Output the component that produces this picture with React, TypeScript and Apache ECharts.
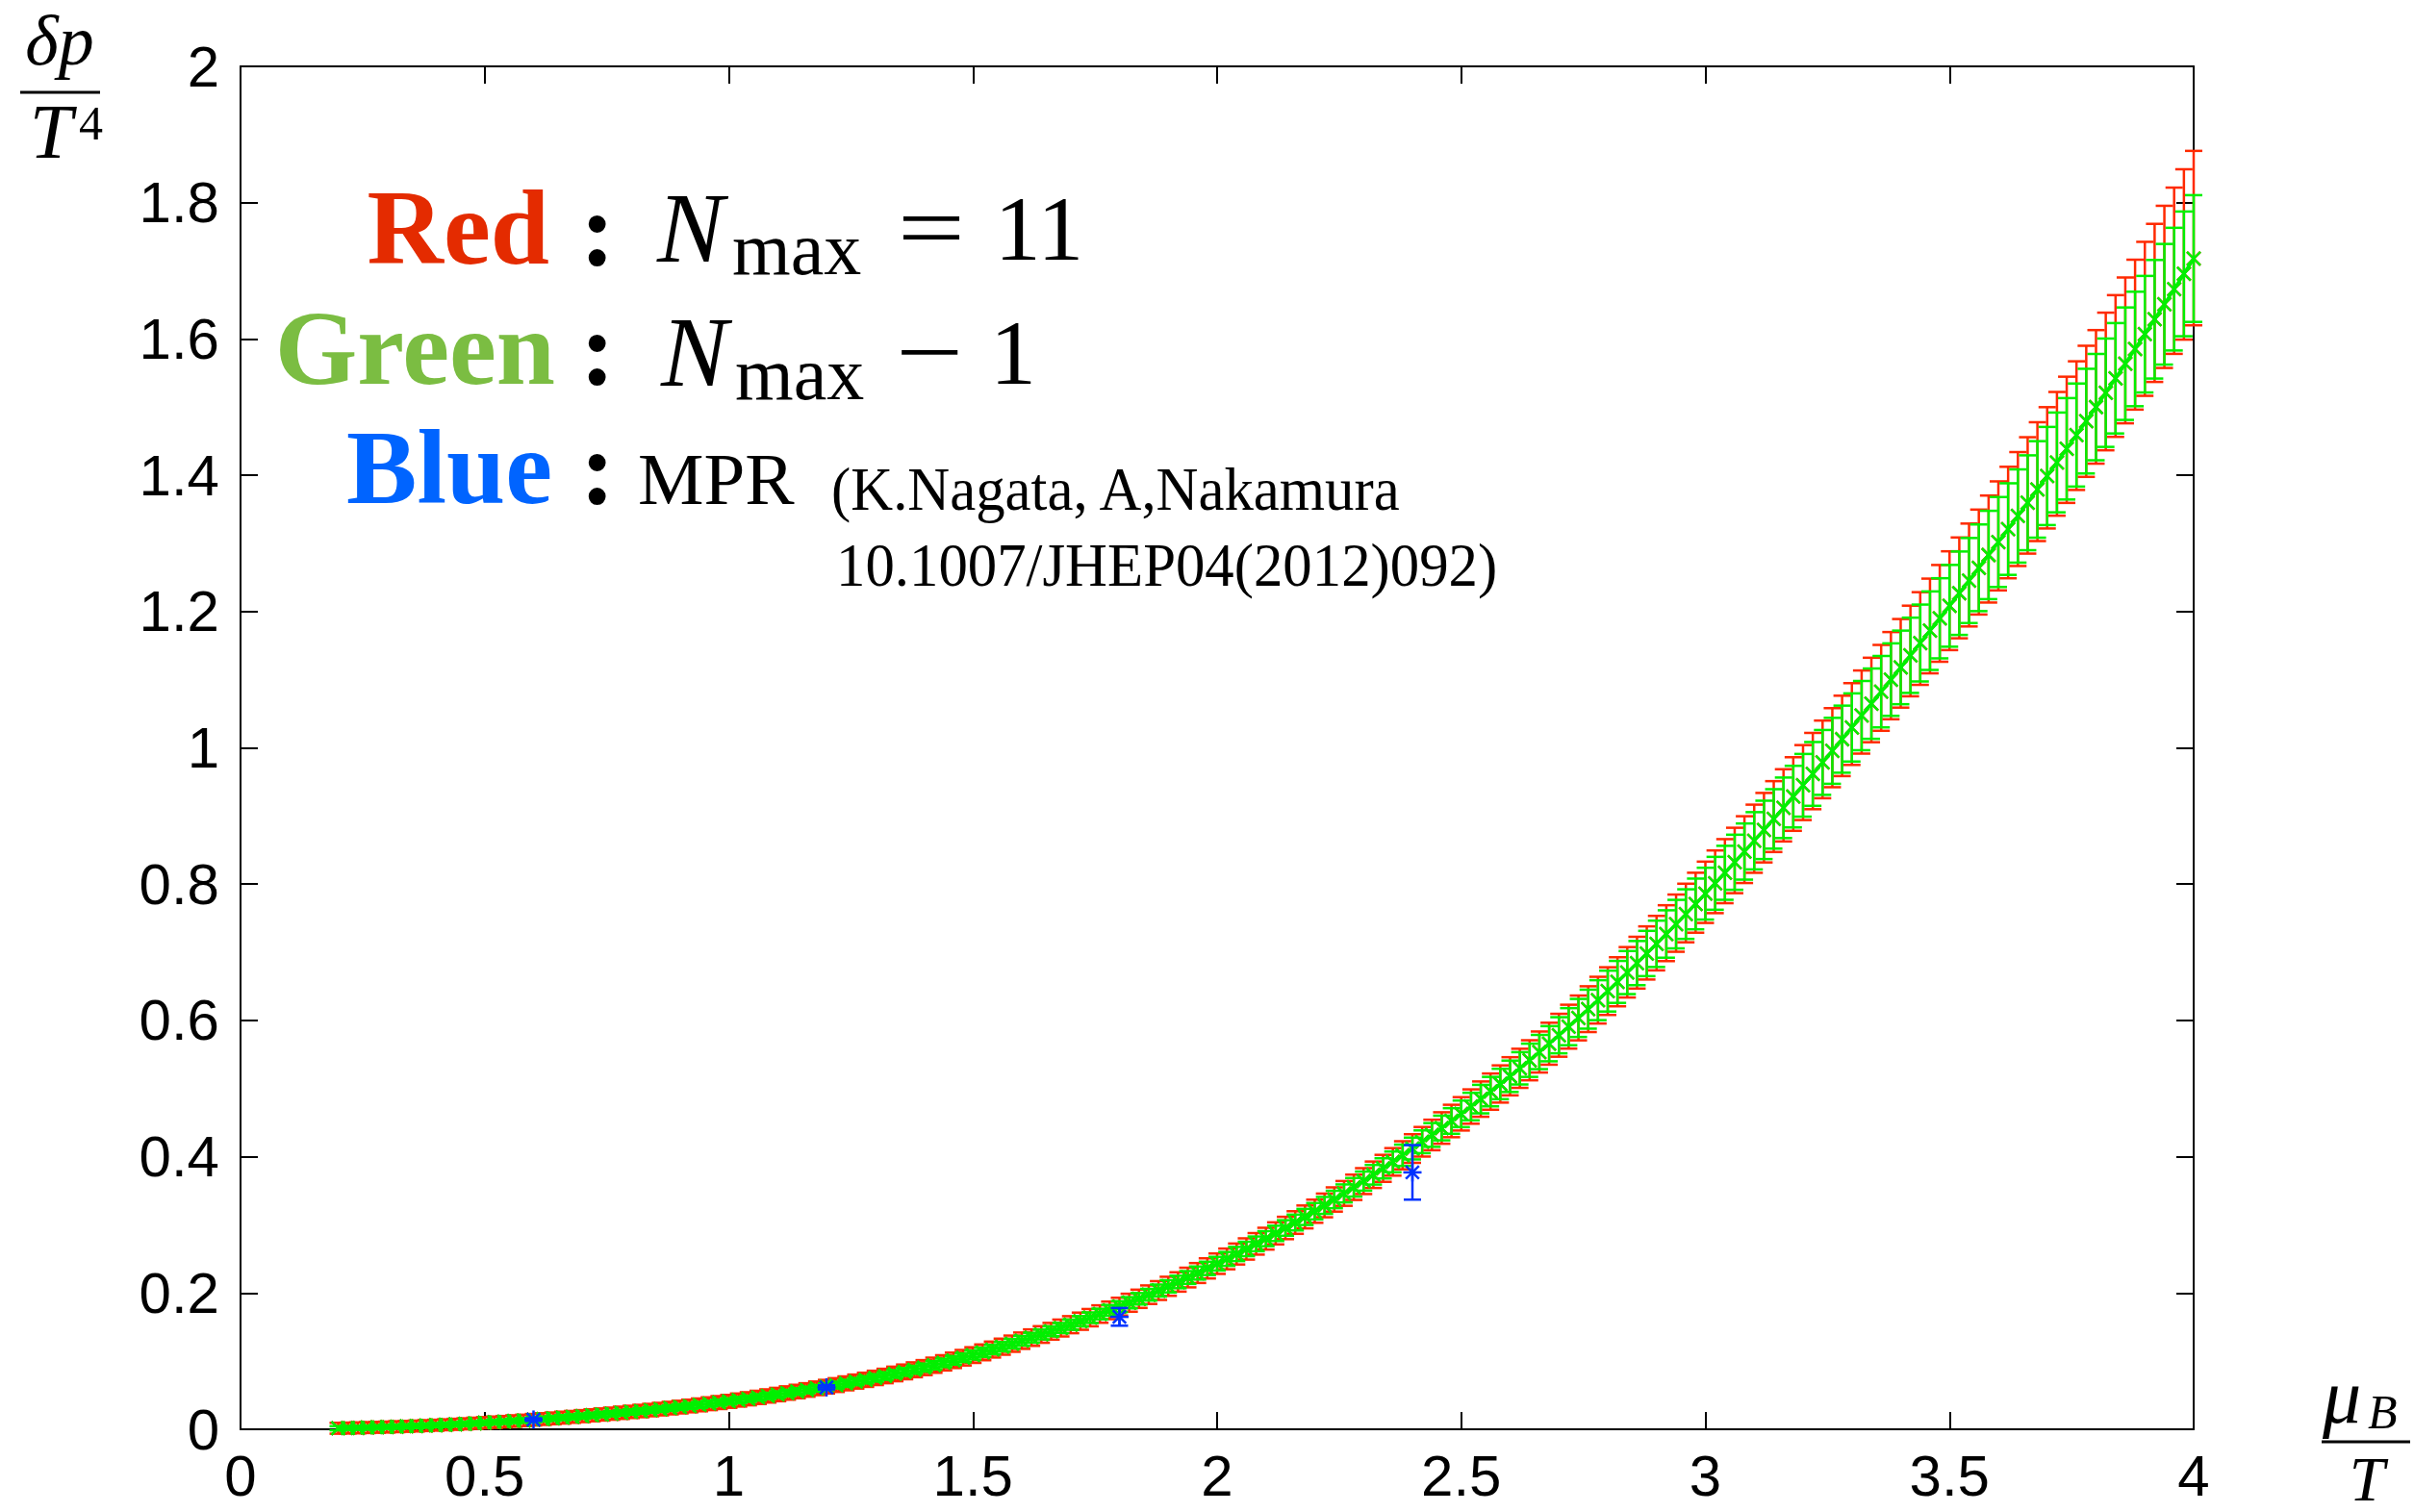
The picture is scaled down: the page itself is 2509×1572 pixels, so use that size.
import React, { useEffect, useRef } from "react";
import * as echarts from "echarts";

// mu_B / T grid of the fugacity-expansion results
const muGrid = [
  0.2, 0.22, 0.24, 0.26, 0.28, 0.3, 0.32, 0.34, 0.36, 0.38,
  0.4, 0.42, 0.44, 0.46, 0.48, 0.5, 0.52, 0.54, 0.56, 0.58,
  0.6, 0.62, 0.64, 0.66, 0.68, 0.7, 0.72, 0.74, 0.76, 0.78,
  0.8, 0.82, 0.84, 0.86, 0.88, 0.9, 0.92, 0.94, 0.96, 0.98,
  1, 1.02, 1.04, 1.06, 1.08, 1.1, 1.12, 1.14, 1.16, 1.18,
  1.2, 1.22, 1.24, 1.26, 1.28, 1.3, 1.32, 1.34, 1.36, 1.38,
  1.4, 1.42, 1.44, 1.46, 1.48, 1.5, 1.52, 1.54, 1.56, 1.58,
  1.6, 1.62, 1.64, 1.66, 1.68, 1.7, 1.72, 1.74, 1.76, 1.78,
  1.8, 1.82, 1.84, 1.86, 1.88, 1.9, 1.92, 1.94, 1.96, 1.98,
  2, 2.02, 2.04, 2.06, 2.08, 2.1, 2.12, 2.14, 2.16, 2.18,
  2.2, 2.22, 2.24, 2.26, 2.28, 2.3, 2.32, 2.34, 2.36, 2.38,
  2.4, 2.42, 2.44, 2.46, 2.48, 2.5, 2.52, 2.54, 2.56, 2.58,
  2.6, 2.62, 2.64, 2.66, 2.68, 2.7, 2.72, 2.74, 2.76, 2.78,
  2.8, 2.82, 2.84, 2.86, 2.88, 2.9, 2.92, 2.94, 2.96, 2.98,
  3, 3.02, 3.04, 3.06, 3.08, 3.1, 3.12, 3.14, 3.16, 3.18,
  3.2, 3.22, 3.24, 3.26, 3.28, 3.3, 3.32, 3.34, 3.36, 3.38,
  3.4, 3.42, 3.44, 3.46, 3.48, 3.5, 3.52, 3.54, 3.56, 3.58,
  3.6, 3.62, 3.64, 3.66, 3.68, 3.7, 3.72, 3.74, 3.76, 3.78,
  3.8, 3.82, 3.84, 3.86, 3.88, 3.9, 3.92, 3.94, 3.96, 3.98,
  4,
];

// delta p / T^4 (the two truncations share the plotted central values)
const pCentral = [
  0.0015, 0.0018, 0.0021, 0.0025, 0.0029, 0.0033, 0.0038, 0.0043, 0.0048, 0.0054,
  0.0060, 0.0066, 0.0073, 0.0080, 0.0088, 0.0096, 0.0104, 0.0112, 0.0121, 0.0130,
  0.0140, 0.0150, 0.0160, 0.0171, 0.0182, 0.0193, 0.0205, 0.0217, 0.0229, 0.0242,
  0.0255, 0.0268, 0.0282, 0.0296, 0.0311, 0.0326, 0.0342, 0.0358, 0.0375, 0.0392,
  0.0410, 0.0429, 0.0448, 0.0468, 0.0489, 0.0510, 0.0532, 0.0554, 0.0577, 0.0601,
  0.0625, 0.0649, 0.0674, 0.0700, 0.0726, 0.0754, 0.0782, 0.0812, 0.0842, 0.0873,
  0.0905, 0.0940, 0.0975, 0.1012, 0.1050, 0.1089, 0.1129, 0.1170, 0.1212, 0.1256,
  0.1300, 0.1345, 0.1391, 0.1438, 0.1486, 0.1535, 0.1586, 0.1638, 0.1691, 0.1745,
  0.1800, 0.1857, 0.1915, 0.1975, 0.2036, 0.2098, 0.2162, 0.2227, 0.2293, 0.2361,
  0.2430, 0.2500, 0.2572, 0.2646, 0.2721, 0.2797, 0.2875, 0.2954, 0.3034, 0.3116,
  0.3200, 0.3285, 0.3372, 0.3461, 0.3551, 0.3642, 0.3735, 0.3829, 0.3924, 0.4021,
  0.4120, 0.4219, 0.4319, 0.4421, 0.4524, 0.4629, 0.4736, 0.4845, 0.4955, 0.5067,
  0.5180, 0.5297, 0.5415, 0.5536, 0.5658, 0.5782, 0.5908, 0.6036, 0.6165, 0.6297,
  0.6430, 0.6565, 0.6702, 0.6841, 0.6982, 0.7124, 0.7268, 0.7413, 0.7560, 0.7709,
  0.7860, 0.8012, 0.8166, 0.8321, 0.8478, 0.8636, 0.8796, 0.8957, 0.9120, 0.9284,
  0.9450, 0.9617, 0.9786, 0.9956, 1.0127, 1.0299, 1.0473, 1.0648, 1.0824, 1.1001,
  1.1180, 1.1358, 1.1538, 1.1719, 1.1901, 1.2084, 1.2269, 1.2455, 1.2642, 1.2830,
  1.3020, 1.3210, 1.3402, 1.3596, 1.3792, 1.3989, 1.4188, 1.4388, 1.4590, 1.4794,
  1.5000, 1.5211, 1.5423, 1.5637, 1.5853, 1.6070, 1.6289, 1.6509, 1.6731, 1.6955,
  1.7180,
];

// Green (N_max - 1): symmetric error
const errGreen = [
  0.0030, 0.0030, 0.0030, 0.0030, 0.0030, 0.0030, 0.0030, 0.0030, 0.0030, 0.0030,
  0.0030, 0.0030, 0.0031, 0.0031, 0.0032, 0.0032, 0.0033, 0.0033, 0.0034, 0.0034,
  0.0035, 0.0036, 0.0036, 0.0037, 0.0037, 0.0038, 0.0038, 0.0039, 0.0039, 0.0040,
  0.0040, 0.0041, 0.0041, 0.0042, 0.0042, 0.0043, 0.0043, 0.0044, 0.0044, 0.0045,
  0.0045, 0.0046, 0.0046, 0.0047, 0.0047, 0.0048, 0.0048, 0.0049, 0.0049, 0.0050,
  0.0050, 0.0051, 0.0052, 0.0053, 0.0054, 0.0055, 0.0056, 0.0057, 0.0058, 0.0059,
  0.0060, 0.0061, 0.0062, 0.0063, 0.0064, 0.0065, 0.0066, 0.0067, 0.0068, 0.0069,
  0.0070, 0.0071, 0.0072, 0.0073, 0.0074, 0.0075, 0.0076, 0.0077, 0.0078, 0.0079,
  0.0080, 0.0082, 0.0084, 0.0086, 0.0088, 0.0090, 0.0092, 0.0094, 0.0096, 0.0098,
  0.0100, 0.0102, 0.0104, 0.0106, 0.0108, 0.0110, 0.0112, 0.0114, 0.0116, 0.0118,
  0.0120, 0.0124, 0.0128, 0.0132, 0.0136, 0.0140, 0.0144, 0.0148, 0.0152, 0.0156,
  0.0160, 0.0167, 0.0174, 0.0181, 0.0188, 0.0195, 0.0202, 0.0209, 0.0216, 0.0223,
  0.0230, 0.0237, 0.0244, 0.0251, 0.0258, 0.0265, 0.0272, 0.0279, 0.0286, 0.0293,
  0.0300, 0.0308, 0.0316, 0.0324, 0.0332, 0.0340, 0.0348, 0.0356, 0.0364, 0.0372,
  0.0380, 0.0388, 0.0396, 0.0404, 0.0412, 0.0420, 0.0428, 0.0436, 0.0444, 0.0452,
  0.0460, 0.0468, 0.0476, 0.0484, 0.0492, 0.0500, 0.0508, 0.0516, 0.0524, 0.0532,
  0.0540, 0.0552, 0.0564, 0.0576, 0.0588, 0.0600, 0.0612, 0.0624, 0.0636, 0.0648,
  0.0660, 0.0672, 0.0684, 0.0696, 0.0708, 0.0720, 0.0732, 0.0744, 0.0756, 0.0768,
  0.0780, 0.0795, 0.0810, 0.0825, 0.0840, 0.0855, 0.0870, 0.0885, 0.0900, 0.0915,
  0.0930,
];

// Red (N_max = 11): lower error
const errRedLow = [
  0.0080, 0.0080, 0.0080, 0.0080, 0.0080, 0.0080, 0.0080, 0.0080, 0.0080, 0.0080,
  0.0080, 0.0080, 0.0081, 0.0081, 0.0082, 0.0082, 0.0083, 0.0083, 0.0084, 0.0084,
  0.0085, 0.0086, 0.0086, 0.0087, 0.0087, 0.0088, 0.0088, 0.0089, 0.0089, 0.0090,
  0.0090, 0.0091, 0.0091, 0.0092, 0.0092, 0.0093, 0.0093, 0.0094, 0.0094, 0.0095,
  0.0095, 0.0096, 0.0096, 0.0097, 0.0097, 0.0098, 0.0098, 0.0099, 0.0099, 0.0100,
  0.0100, 0.0101, 0.0102, 0.0103, 0.0104, 0.0105, 0.0106, 0.0107, 0.0108, 0.0109,
  0.0110, 0.0111, 0.0112, 0.0113, 0.0114, 0.0115, 0.0116, 0.0117, 0.0118, 0.0119,
  0.0120, 0.0121, 0.0122, 0.0123, 0.0124, 0.0125, 0.0126, 0.0127, 0.0128, 0.0129,
  0.0130, 0.0132, 0.0134, 0.0136, 0.0138, 0.0140, 0.0142, 0.0144, 0.0146, 0.0148,
  0.0150, 0.0152, 0.0154, 0.0156, 0.0158, 0.0160, 0.0162, 0.0164, 0.0166, 0.0168,
  0.0170, 0.0174, 0.0178, 0.0182, 0.0186, 0.0190, 0.0194, 0.0198, 0.0202, 0.0206,
  0.0210, 0.0217, 0.0224, 0.0231, 0.0238, 0.0245, 0.0252, 0.0259, 0.0266, 0.0273,
  0.0280, 0.0287, 0.0294, 0.0301, 0.0308, 0.0315, 0.0322, 0.0329, 0.0336, 0.0343,
  0.0350, 0.0358, 0.0366, 0.0374, 0.0382, 0.0390, 0.0398, 0.0406, 0.0414, 0.0422,
  0.0430, 0.0438, 0.0446, 0.0454, 0.0462, 0.0470, 0.0478, 0.0486, 0.0494, 0.0502,
  0.0510, 0.0518, 0.0526, 0.0534, 0.0542, 0.0550, 0.0558, 0.0566, 0.0574, 0.0582,
  0.0590, 0.0602, 0.0614, 0.0626, 0.0638, 0.0650, 0.0662, 0.0674, 0.0686, 0.0698,
  0.0710, 0.0722, 0.0734, 0.0746, 0.0758, 0.0770, 0.0782, 0.0794, 0.0806, 0.0818,
  0.0830, 0.0845, 0.0860, 0.0875, 0.0890, 0.0905, 0.0920, 0.0935, 0.0950, 0.0965,
  0.0980,
];

// Red (N_max = 11): upper error
const errRedHigh = [
  0.0080, 0.0080, 0.0080, 0.0080, 0.0080, 0.0080, 0.0080, 0.0080, 0.0080, 0.0080,
  0.0080, 0.0080, 0.0081, 0.0081, 0.0082, 0.0082, 0.0083, 0.0083, 0.0084, 0.0084,
  0.0085, 0.0086, 0.0086, 0.0087, 0.0087, 0.0088, 0.0088, 0.0089, 0.0089, 0.0090,
  0.0090, 0.0091, 0.0091, 0.0092, 0.0092, 0.0093, 0.0093, 0.0094, 0.0094, 0.0095,
  0.0095, 0.0096, 0.0096, 0.0097, 0.0097, 0.0098, 0.0098, 0.0099, 0.0099, 0.0100,
  0.0100, 0.0101, 0.0102, 0.0103, 0.0104, 0.0105, 0.0106, 0.0107, 0.0108, 0.0109,
  0.0110, 0.0111, 0.0112, 0.0113, 0.0114, 0.0115, 0.0116, 0.0117, 0.0118, 0.0119,
  0.0120, 0.0121, 0.0122, 0.0123, 0.0124, 0.0125, 0.0126, 0.0127, 0.0128, 0.0129,
  0.0130, 0.0132, 0.0134, 0.0136, 0.0138, 0.0140, 0.0142, 0.0144, 0.0146, 0.0148,
  0.0150, 0.0152, 0.0154, 0.0156, 0.0158, 0.0160, 0.0162, 0.0164, 0.0166, 0.0168,
  0.0170, 0.0174, 0.0178, 0.0182, 0.0186, 0.0190, 0.0194, 0.0198, 0.0202, 0.0206,
  0.0210, 0.0217, 0.0224, 0.0231, 0.0238, 0.0245, 0.0252, 0.0259, 0.0266, 0.0273,
  0.0280, 0.0287, 0.0294, 0.0301, 0.0308, 0.0315, 0.0322, 0.0329, 0.0336, 0.0343,
  0.0350, 0.0362, 0.0374, 0.0386, 0.0398, 0.0410, 0.0422, 0.0434, 0.0446, 0.0458,
  0.0470, 0.0482, 0.0494, 0.0506, 0.0518, 0.0530, 0.0542, 0.0554, 0.0566, 0.0578,
  0.0590, 0.0602, 0.0614, 0.0626, 0.0638, 0.0650, 0.0662, 0.0674, 0.0686, 0.0698,
  0.0710, 0.0728, 0.0746, 0.0764, 0.0782, 0.0800, 0.0818, 0.0836, 0.0854, 0.0872,
  0.0890, 0.0914, 0.0938, 0.0962, 0.0986, 0.1010, 0.1034, 0.1058, 0.1082, 0.1106,
  0.1130, 0.1175, 0.1220, 0.1265, 0.1310, 0.1355, 0.1400, 0.1445, 0.1490, 0.1535,
  0.1580,
];

// Blue: MPR (Nagata, Nakamura)
const muMPR = [0.6, 1.2, 1.8, 2.4];
const pMPR = [0.0142, 0.0615, 0.165, 0.377];
const errMPR = [0.002, 0.003, 0.013, 0.04];

const xTicks = { min: 0, max: 4, interval: 0.5 };
const yTicks = { min: 0, max: 2, interval: 0.2 };

const SERIF = "'Liberation Serif','Times New Roman',serif";
const SANS = "'Liberation Sans',Arial,Helvetica,sans-serif";

const RED = "#ff2a00";
const GREEN = "#00f000";
const BLUE = "#0033ff";

function errRenderer(color: string, capHalf: number, markHalf: number, lw: number, star: boolean) {
  return (params: any, api: any) => {
    const x = api.value(0);
    const y = api.value(1);
    const lo = api.value(2);
    const hi = api.value(3);
    const c = api.coord([x, y]);
    const t = api.coord([x, y + hi]);
    const b = api.coord([x, y - lo]);
    const st = () => ({ stroke: color, lineWidth: lw, fill: "none" });
    const children: any[] = [
      { type: "line", shape: { x1: c[0], y1: t[1], x2: c[0], y2: b[1] }, style: st() },
      { type: "line", shape: { x1: c[0] - capHalf, y1: t[1], x2: c[0] + capHalf, y2: t[1] }, style: st() },
      { type: "line", shape: { x1: c[0] - capHalf, y1: b[1], x2: c[0] + capHalf, y2: b[1] }, style: st() },
    ];
    const m = markHalf;
    const d = star ? m * 0.72 : m;
    children.push(
      { type: "line", shape: { x1: c[0] - d, y1: c[1] - d, x2: c[0] + d, y2: c[1] + d }, style: st() },
      { type: "line", shape: { x1: c[0] - d, y1: c[1] + d, x2: c[0] + d, y2: c[1] - d }, style: st() }
    );
    if (star) {
      children.push(
        { type: "line", shape: { x1: c[0] - m, y1: c[1], x2: c[0] + m, y2: c[1] }, style: st() },
        { type: "line", shape: { x1: c[0], y1: c[1] - m, x2: c[0], y2: c[1] + m }, style: st() }
      );
    }
    return { type: "group", children };
  };
}

function txt(text: string, x: number, y: number, size: number, o: any = {}) {
  const align = o.align || "left";
  return {
    type: "text",
    x,
    y,
    scaleX: o.scaleX || 1,
    z: 100,
    style: {
      text,
      x: 0,
      y: 0,
      fontSize: size,
      fontFamily: o.family || SERIF,
      fontWeight: o.weight || "normal",
      fontStyle: o.style || "normal",
      fill: o.color || "#000",
      textAlign: align,
      align,
      textVerticalAlign: "middle",
      verticalAlign: "middle",
    },
  };
}

function hline(x1: number, x2: number, y: number) {
  return { type: "line", z: 100, shape: { x1, y1: y, x2, y2: y }, style: { stroke: "#000", lineWidth: 3 } };
}

export default function App() {
  const ref = useRef<HTMLDivElement>(null);

  useEffect(() => {
    if (!ref.current) return;
    const chart = echarts.init(ref.current, undefined, { renderer: "svg" });

    const n = Math.min(muGrid.length, pCentral.length, errGreen.length, errRedLow.length, errRedHigh.length);
    const redData: number[][] = [];
    const greenData: number[][] = [];
    for (let i = 0; i < n; i++) {
      redData.push([muGrid[i], pCentral[i], errRedLow[i], errRedHigh[i]]);
      greenData.push([muGrid[i], pCentral[i], errGreen[i], errGreen[i]]);
    }
    const blueData = muMPR.map((m, i) => [m, pMPR[i], errMPR[i], errMPR[i]]);

    const axisLine = { show: true, onZero: false, lineStyle: { color: "#000", width: 2 } };
    const axisTick = { show: true, inside: true, length: 18, lineStyle: { color: "#000", width: 2 } };

    const option: any = {
      animation: false,
      backgroundColor: "#fff",
      grid: { left: 250, top: 69, width: 2030, height: 1417, show: false },
      xAxis: [
        {
          type: "value",
          ...xTicks,
          position: "bottom",
          axisLine,
          axisTick,
          splitLine: { show: false },
          axisLabel: { fontSize: 60, fontFamily: SANS, color: "#000", margin: 18 },
        },
        {
          type: "value",
          ...xTicks,
          position: "top",
          axisLine,
          axisTick,
          splitLine: { show: false },
          axisLabel: { show: false },
        },
      ],
      yAxis: [
        {
          type: "value",
          ...yTicks,
          position: "left",
          axisLine,
          axisTick,
          splitLine: { show: false },
          axisLabel: { fontSize: 60, fontFamily: SANS, color: "#000", margin: 22 },
        },
        {
          type: "value",
          ...yTicks,
          position: "right",
          axisLine,
          axisTick,
          splitLine: { show: false },
          axisLabel: { show: false },
        },
      ],
      series: [
        {
          name: "Nmax=11",
          type: "custom",
          z: 2,
          clip: false,
          encode: { x: 0, y: 1 },
          data: redData,
          renderItem: errRenderer(RED, 9, 7, 2.5, false),
        },
        {
          name: "Nmax-1",
          type: "custom",
          z: 4,
          clip: false,
          encode: { x: 0, y: 1 },
          data: greenData,
          renderItem: errRenderer(GREEN, 9, 7, 2.5, false),
        },
        {
          name: "Nmax-1 line",
          type: "line",
          z: 5,
          symbol: "none",
          showSymbol: false,
          lineStyle: { color: GREEN, width: 3.5 },
          data: greenData.map((d) => [d[0], d[1]]),
        },
        {
          name: "MPR",
          type: "custom",
          z: 6,
          clip: false,
          encode: { x: 0, y: 1 },
          data: blueData,
          renderItem: errRenderer(BLUE, 9, 9.5, 2.5, true),
        },
      ],
      graphic: [
        // annotation block
        txt("Red", 571, 237, 110, { weight: "bold", color: "#e42b00", align: "right" }),
        txt(":", 621, 238, 110, { weight: "bold", align: "center" }),
        txt("N", 683, 236, 104, { style: "italic" }),
        txt("max", 761, 258, 78),
        txt("=", 968, 237, 96, { align: "center", scaleX: 1.3 }),
        txt("11", 1080, 237, 96, { align: "center" }),

        txt("Green", 577, 362, 110, { weight: "bold", color: "#7bbd42", align: "right" }),
        txt(":", 621, 362, 110, { weight: "bold", align: "center" }),
        txt("N", 687, 365, 104, { style: "italic" }),
        txt("max", 764, 388, 78),
        txt("\u2212", 966, 366, 96, { align: "center", scaleX: 1.3 }),
        txt("1", 1053, 366, 96, { align: "center" }),

        txt("Blue", 574, 486, 110, { weight: "bold", color: "#0064ff", align: "right" }),
        txt(":", 621, 486, 110, { weight: "bold", align: "center" }),
        txt("MPR", 663, 498, 77),
        txt("(K.Nagata, A,Nakamura", 864, 508, 64, { scaleX: 0.95 }),
        txt("10.1007/JHEP04(2012)092)", 869, 587, 64, { scaleX: 0.95 }),

        // y-axis name  δp / T^4
        txt("\u03b4p", 62, 42, 74, { style: "italic", align: "center" }),
        hline(21, 104, 96),
        txt("T", 53, 137, 80, { style: "italic", align: "center" }),
        txt("4", 82, 128, 50),

        // x-axis name  μ_B / T
        txt("\u03bc", 2434, 1452, 80, { style: "italic", align: "center" }),
        txt("B", 2461, 1468, 50, { style: "italic" }),
        hline(2413, 2505, 1499),
        txt("T", 2460, 1537, 66, { style: "italic", align: "center" }),
      ],
    };

    chart.setOption(option);
    return () => chart.dispose();
  }, []);

  return (
    <div
      ref={ref}
      style={{ position: "fixed", left: 0, top: 0, width: "2509px", height: "1572px", background: "#fff" }}
    />
  );
}
